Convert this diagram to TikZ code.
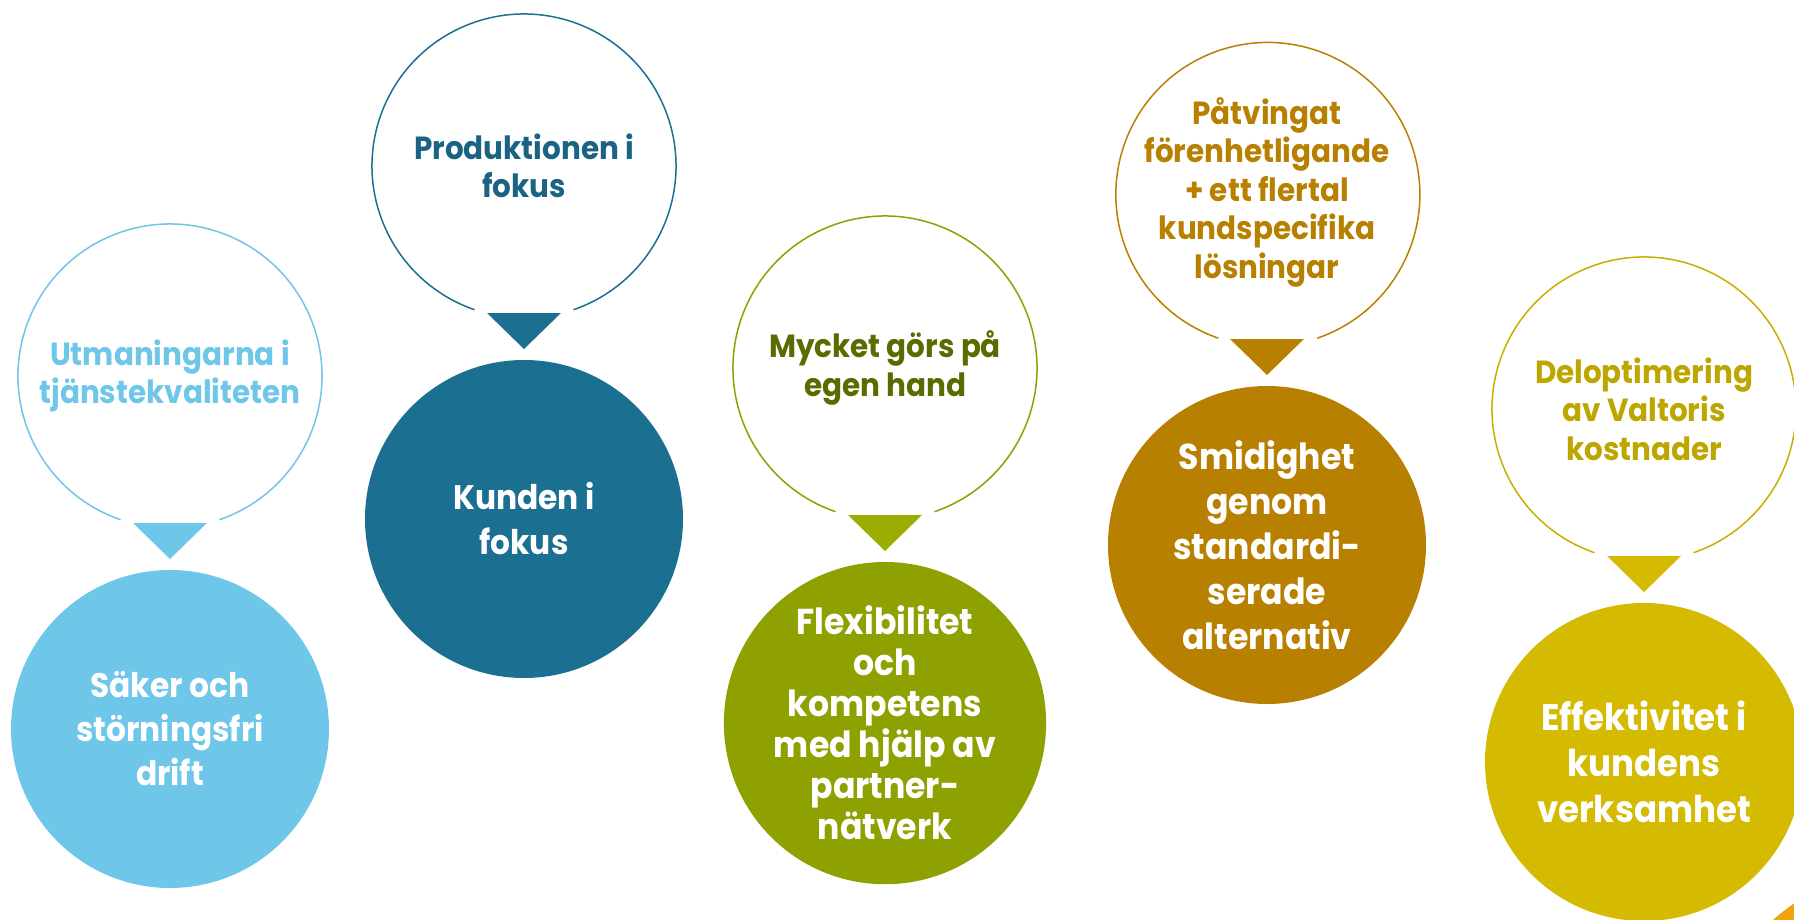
\documentclass[tikz,border=0pt]{standalone}
\usepackage{fontspec}
\setmainfont{Poppins}[FakeStretch=0.92]
\usetikzlibrary{positioning}
\definecolor{vblue}{HTML}{6EC6E8}
\definecolor{vteal}{HTML}{1B7092}
\definecolor{vtealtext}{HTML}{1A6383}
\definecolor{volive}{HTML}{8EA100}
\definecolor{volivetri}{HTML}{9AAD00}
\definecolor{volivetext}{HTML}{5B6B00}
\definecolor{vgold}{HTML}{B88000}
\definecolor{vyellow}{HTML}{D4BA00}
\definecolor{vyellowring}{HTML}{C8AE00}
\definecolor{vyellowtext}{HTML}{BEA600}
\definecolor{vorange}{HTML}{F0A30A}

\begin{document}
\begin{tikzpicture}[x=1pt,y=1pt,
  bubble/.style={circle,inner sep=0pt,outer sep=0pt,minimum size=304pt,align=center,font=\bfseries\fontsize{32}{38.5}\selectfont},
  disc/.style={circle,inner sep=0pt,outer sep=0pt,minimum size=318pt,align=center,text=white,font=\bfseries\fontsize{34}{44}\selectfont},
  ring/.style={line width=1.5pt}]
\useasboundingbox (0,0) rectangle (1794,-920);
% column 1
\node[bubble,text=vblue] (q1) at (170,-376) {Utmaningarna i\\tjänstekvaliteten};
\draw[ring,vblue] (q1.-71) arc (-71:251:152);
\fill[vblue] (q1.center) ++(-37,-147) -- ++(74,0) -- ++(-37,-36) -- cycle;
\node[disc,fill=vblue,below=194pt of q1.center] (k1) {Säker och\\störningsfri\\drift};
% column 2
\node[bubble,text=vtealtext] (q2) at (524,-166) {Produktionen i\\fokus};
\draw[ring,vteal] (q2.-71) arc (-71:251:152);
\fill[vteal] (q2.center) ++(-37,-147) -- ++(74,0) -- ++(-37,-36) -- cycle;
\node[disc,fill=vteal,below=194pt of q2.center,font=\bfseries\fontsize{34}{45}\selectfont] (k2) {Kunden i\\fokus};
% column 3
\node[bubble,text=volivetext] (q3) at (885,-368) {Mycket görs på\\egen hand};
\draw[ring,volive] (q3.-71) arc (-71:251:152);
\fill[volivetri] (q3.center) ++(-37,-147) -- ++(74,0) -- ++(-37,-36) -- cycle;
\node[disc,fill=volive,below=194pt of q3.center,font=\bfseries\fontsize{36}{41}\selectfont] (k3) {Flexibilitet\\och\\kompetens\\med hjälp av\\partner-\\nätverk};
% column 4
\node[bubble,text=vgold] (q4) at (1267,-192) {Påtvingat\\förenhetligande\\+ ett flertal\\kundspecifika\\lösningar};
\draw[ring,vgold] (q4.-71) arc (-71:251:152);
\fill[vgold] (q4.center) ++(-37,-147) -- ++(74,0) -- ++(-37,-36) -- cycle;
\node[disc,fill=vgold,below=194pt of q4.center,font=\bfseries\fontsize{36}{45}\selectfont] (k4) {Smidighet\\genom\\standardi-\\serade\\alternativ};
% column 5
\node[bubble,text=vyellowtext] (q5) at (1644,-409) {Deloptimering\\av Valtoris\\kostnader};
\draw[ring,vyellowring] (q5.-71) arc (-71:251:152);
\fill[vyellow] (q5.center) ++(-37,-147) -- ++(74,0) -- ++(-37,-36) -- cycle;
\node[disc,fill=vyellow,below=194pt of q5.center,font=\bfseries\fontsize{37}{46}\selectfont] (k5) {Effektivitet i\\kundens\\verksamhet};
% corner piece
\begin{scope}
\clip (0,0) rectangle (1794,-920);
\fill[vorange] (1900,-1060) circle (189);
\end{scope}
\end{tikzpicture}
\end{document}
